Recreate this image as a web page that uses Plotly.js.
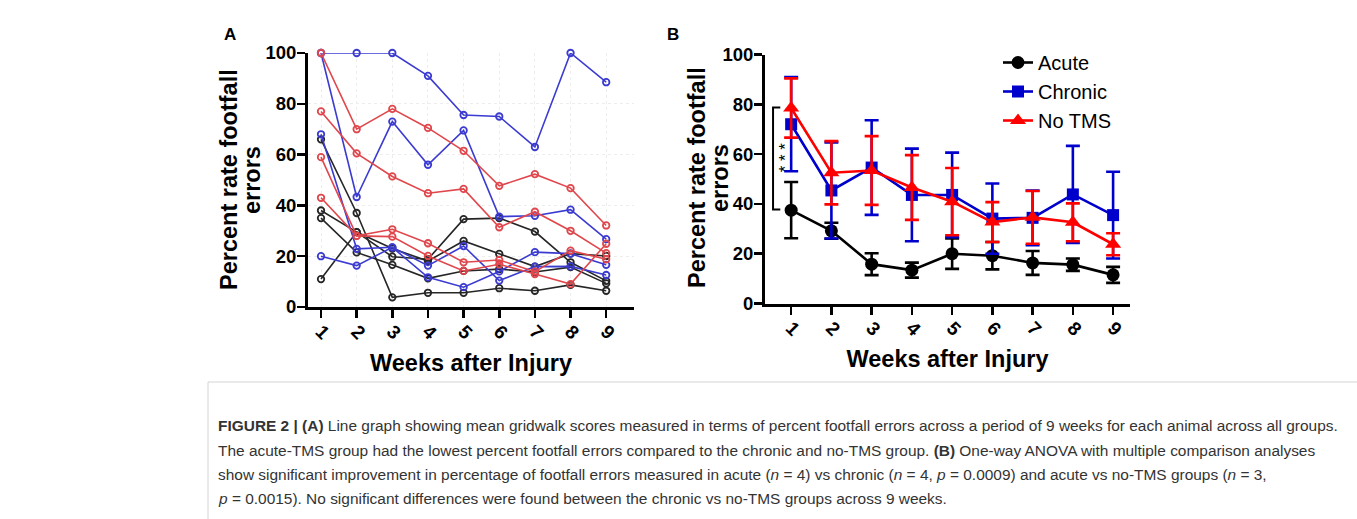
<!DOCTYPE html>
<html>
<head>
<meta charset="utf-8">
<script src="https://cdn.plot.ly/plotly-3.0.1.min.js"></script>
<style>
html,body{margin:0;padding:0;background:#fff;}
#chart{width:1357px;height:519px;}
</style>
</head>
<body>
<div id="chart"></div>
<script>
// ---------- DATA ----------
var weeks = [1, 2, 3, 4, 5, 6, 7, 8, 9];
var weekLabels = ["1", "2", "3", "4", "5", "6", "7", "8", "9"];

// Panel A: individual animals (percent footfall errors)
var acute1 = [66, 37, 3.8, 5.6, 5.6, 7.4, 6.4, 8.7, 6.4];
var acute2 = [11, 29.5, 19.8, 18.8, 34.6, 35, 29.7, 17.6, 10.3];
var acute3 = [38, 29.5, 23, 18.1, 26, 20.9, 15.9, 21, 20.1];
var acute4 = [35, 21.5, 16.6, 11.3, 14.2, 14.9, 13.8, 15.7, 9.3];

var chronic1 = [100, 100, 100, 91, 75.6, 75, 63, 100, 88.5];
var chronic2 = [100, 43.3, 73, 56, 69.5, 35.6, 35.9, 38.3, 26.7];
var chronic3 = [68, 22.9, 23.5, 11.7, 7.8, 14, 21.6, 21, 16.6];
var chronic4 = [20, 16.3, 23.5, 16.3, 24, 10.4, 15.9, 16, 12.6];

var notms1 = [100, 70, 78, 70.5, 61.5, 47.7, 52.3, 46.8, 32.1];
var notms2 = [77, 60.5, 51.4, 44.8, 46.5, 31.4, 37.5, 30, 21.2];
var notms3 = [59, 28, 30.6, 25.1, 17.6, 18.5, 13.9, 22.2, 18.8];
var notms4 = [43, 28, 27.7, 20.1, 14.2, 16.8, 13, 9, 24.9];

// Panel B: group means and error (SEM)
var acuteMean = [37.5, 29.2, 15.8, 13.4, 20, 19.2, 16.3, 15.6, 11.5];
var acuteErr = [11.3, 3.2, 4.4, 3, 6.1, 5.5, 4.8, 2.5, 3.2];
var chronicMean = [72, 45.4, 54.6, 43.6, 43.6, 34.1, 34.4, 43.8, 35.5];
var chronicErr = [18.9, 19.3, 19, 18.6, 17, 14.1, 11, 19.5, 17.4];
var notmsMean = [78.5, 52.5, 53.4, 46.6, 40.9, 32.7, 34.6, 32.6, 23.8];
var notmsErr = [11.9, 12.7, 13.8, 13, 13.5, 8, 10.6, 7.6, 4.4];

var seriesNames = ["Acute", "Chronic", "No TMS"];
var yTitleLines = ["Percent rate footfall", "errors"];
var xTitle = "Weeks after Injury";

// ---------- STYLE ----------
var FONT = "Arial, 'Liberation Sans', sans-serif";
var cA = {acute: "#262626", chronic: "#3b3bd1", notms: "#e0474c"};
var cB = {acute: "#000000", chronic: "#0000cc", notms: "#ff0000"};

function animalTrace(y, color) {
  return {
    x: weeks, y: y, xaxis: "x", yaxis: "y", type: "scatter", mode: "lines+markers",
    line: {color: color, width: 1.6},
    marker: {symbol: "circle-open", size: 6.5, color: color, line: {width: 1.8, color: color}},
    showlegend: false, cliponaxis: false, hoverinfo: "skip"
  };
}

var traces = [];
[acute1, acute2, acute3, acute4].forEach(function (s) { traces.push(animalTrace(s, cA.acute)); });
[chronic1, chronic2, chronic3, chronic4].forEach(function (s) { traces.push(animalTrace(s, cA.chronic)); });
[notms1, notms2, notms3, notms4].forEach(function (s) { traces.push(animalTrace(s, cA.notms)); });

function meanTrace(name, y, err, color, symbol, size) {
  return {
    x: weeks, y: y, name: name, xaxis: "x2", yaxis: "y2", type: "scatter", mode: "lines+markers",
    line: {color: color, width: 2.6},
    marker: {symbol: symbol, size: size, color: color},
    error_y: {type: "data", array: err, visible: true, color: color, thickness: 2.6, width: 7},
    cliponaxis: false
  };
}
traces.push(meanTrace(seriesNames[0], acuteMean, acuteErr, cB.acute, "circle", 13));
traces.push(meanTrace(seriesNames[1], chronicMean, chronicErr, cB.chronic, "square", 12));
traces.push(meanTrace(seriesNames[2], notmsMean, notmsErr, cB.notms, "triangle-up", 14));

function xAxis(domain, range, anchor, grid) {
  return {
    domain: domain, range: range, anchor: anchor,
    tickvals: weeks, ticktext: weekLabels, tickangle: 45,
    tickfont: {family: FONT, size: 19, color: "#000", weight: "bold"},
    ticks: "outside", ticklen: 8, tickwidth: 2.5, tickcolor: "#000", ticklabelstandoff: -5,
    showline: true, linewidth: 3, linecolor: "#000",
    showgrid: grid, gridcolor: "#ededed", griddash: "dot", gridwidth: 1,
    zeroline: false, fixedrange: true,
    title: {text: xTitle, font: {family: FONT, size: 23.5, color: "#000", weight: "bold"}, standoff: 12}
  };
}
function yAxis(domain, anchor, grid) {
  return {
    domain: domain, range: [0, 100], anchor: anchor,
    tickvals: [0, 20, 40, 60, 80, 100],
    tickfont: {family: FONT, size: 18.5, color: "#000", weight: "bold"},
    ticks: "outside", ticklen: 8, tickwidth: 2.5, tickcolor: "#000", ticklabelstandoff: -3,
    showline: true, linewidth: 3, linecolor: "#000",
    showgrid: grid, gridcolor: "#ededed", griddash: "dot", gridwidth: 1,
    zeroline: false, fixedrange: true
  };
}

var capFont = {family: FONT, size: 15.45, color: "#333333"};
var captionLines = [
  "<b>FIGURE 2 | (A)</b> Line graph showing mean gridwalk scores measured in terms of percent footfall errors across a period of 9 weeks for each animal across all groups.",
  "The acute-TMS group had the lowest percent footfall errors compared to the chronic and no-TMS group. <b>(B)</b> One-way ANOVA with multiple comparison analyses",
  "show significant improvement in percentage of footfall errors measured in acute (<i>n</i> = 4) vs chronic (<i>n</i> = 4, <i>p</i> = 0.0009) and acute vs no-TMS groups (<i>n</i> = 3,",
  "<i>p</i> = 0.0015). No significant differences were found between the chronic vs no-TMS groups across 9 weeks."
];
var captionY = [425, 450, 474, 498];

var titleFont = {family: FONT, size: 23.5, color: "#000", weight: "bold"};
var annotations = [
  {text: "<b>A</b>", xref: "paper", yref: "paper", x: 230 / 1357, y: 1 - 35 / 519, showarrow: false,
   font: {family: FONT, size: 17, color: "#000"}, xanchor: "center", yanchor: "middle"},
  {text: "<b>B</b>", xref: "paper", yref: "paper", x: 673 / 1357, y: 1 - 35 / 519, showarrow: false,
   font: {family: FONT, size: 17, color: "#000"}, xanchor: "center", yanchor: "middle"},
  {text: "* * *", xref: "x2", yref: "y2", x: 0.86, y: 58.5, showarrow: false, textangle: -90,
   font: {family: FONT, size: 17, color: "#000"}, xanchor: "center", yanchor: "middle"},
  // y-axis titles (two tight lines each)
  {text: yTitleLines[0], xref: "paper", yref: "paper", x: 229 / 1357, y: 1 - 180 / 519, textangle: -90,
   showarrow: false, font: titleFont, xanchor: "center", yanchor: "middle"},
  {text: yTitleLines[1], xref: "paper", yref: "paper", x: 252 / 1357, y: 1 - 180 / 519, textangle: -90,
   showarrow: false, font: titleFont, xanchor: "center", yanchor: "middle"},
  {text: yTitleLines[0], xref: "paper", yref: "paper", x: 697 / 1357, y: 1 - 178 / 519, textangle: -90,
   showarrow: false, font: titleFont, xanchor: "center", yanchor: "middle"},
  {text: yTitleLines[1], xref: "paper", yref: "paper", x: 720 / 1357, y: 1 - 178 / 519, textangle: -90,
   showarrow: false, font: titleFont, xanchor: "center", yanchor: "middle"}
];
captionLines.forEach(function (t, i) {
  annotations.push({text: t, xref: "paper", yref: "paper", x: 216 / 1357, y: 1 - captionY[i] / 519,
    xanchor: "left", yanchor: "middle", showarrow: false, font: capFont, align: "left"});
});

var layout = {
  width: 1357, height: 519,
  margin: {l: 0, r: 0, t: 0, b: 0},
  paper_bgcolor: "#fff", plot_bgcolor: "rgba(0,0,0,0)",
  font: {family: FONT, color: "#000"},
  xaxis: xAxis([308 / 1357, 634 / 1357], [0.635, 9.78], "y", true),
  yaxis: yAxis([1 - 307 / 519, 1 - 53 / 519], "x", true),
  xaxis2: xAxis([765 / 1357, 1130 / 1357], [0.35, 9.42], "y2", false),
  yaxis2: yAxis([1 - 303.5 / 519, 1 - 54.5 / 519], "x2", false),
  showlegend: true,
  legend: {x: 998 / 1357, y: 1 - 43 / 519, xanchor: "left", yanchor: "top",
    font: {family: FONT, size: 20, color: "#000"}, bgcolor: "rgba(0,0,0,0)", itemwidth: 30},
  shapes: [
    {type: "path", xref: "x2", yref: "y2", path: "M 0.73 78.7 L 0.55 78.7 L 0.55 37.8 L 0.73 37.8",
     line: {color: "#000", width: 2}},
    {type: "rect", xref: "paper", yref: "paper", x0: 208 / 1357, x1: 1.02, y0: 1 - 382 / 519, y1: -0.05,
     line: {color: "#d4d4d4", width: 1}}
  ],
  annotations: annotations
};

Plotly.newPlot("chart", traces, layout, {displayModeBar: false, staticPlot: true});
</script>
</body>
</html>
